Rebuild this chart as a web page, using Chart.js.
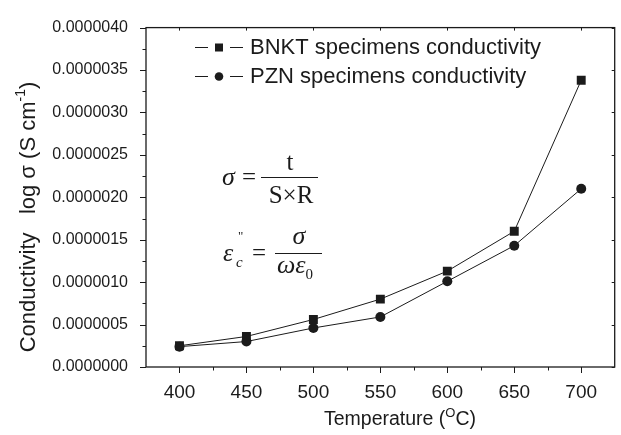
<!DOCTYPE html>
<html>
<head>
<meta charset="utf-8">
<script src="https://cdn.jsdelivr.net/npm/chart.js@4.4.0/dist/chart.umd.min.js"></script>
<style>
  html, body { margin: 0; padding: 0; background: #fff; }
  #wrap { width: 621px; height: 435px; position: relative; }
</style>
</head>
<body>
<div id="wrap"><canvas id="c" width="621" height="435"></canvas></div>
<script>
// ---- data ----
const temperatures = [400, 450, 500, 550, 600, 650, 700];
const bnktConductivity = [0.00000025, 0.00000036, 0.00000056, 0.00000080, 0.00000113, 0.00000160, 0.00000338];
const pznConductivity  = [0.00000024, 0.00000030, 0.00000046, 0.00000059, 0.00000101, 0.00000143, 0.00000210];
const xTickValues = [400, 450, 500, 550, 600, 650, 700];
const yTickValues = [0, 0.0000005, 0.000001, 0.0000015, 0.000002, 0.0000025, 0.000003, 0.0000035, 0.000004];
const seriesNames = ['BNKT specimens conductivity', 'PZN specimens conductivity'];

const INK = '#1b1b1b';

function pts(xs, ys) { return xs.map((x, i) => ({ x: x, y: ys[i] })); }

const framePlugin = {
  id: 'frame',
  afterDraw(chart) {
    const ctx = chart.ctx, a = chart.chartArea;
    const xs = chart.scales.x, ys = chart.scales.y;
    ctx.save();
    ctx.strokeStyle = INK;
    ctx.lineWidth = 1.3;
    ctx.strokeRect(a.left, a.top, a.right - a.left, a.bottom - a.top);
    ctx.lineWidth = 1;
    ctx.beginPath();
    // x ticks
    for (let i = 0; i < xTickValues.length; i++) {
      const v = xTickValues[i];
      const px = Math.round(xs.getPixelForValue(v)) + 0.5;
      ctx.moveTo(px, a.bottom); ctx.lineTo(px, a.bottom + 6);
      ctx.moveTo(px, a.top); ctx.lineTo(px, a.top + 3);
      if (i < xTickValues.length - 1) {
        const m = (v + xTickValues[i + 1]) / 2;
        const pm = Math.round(xs.getPixelForValue(m)) + 0.5;
        ctx.moveTo(pm, a.bottom); ctx.lineTo(pm, a.bottom + 3.5);
      }
    }
    // y ticks
    for (let i = 0; i < yTickValues.length; i++) {
      const v = yTickValues[i];
      const py = Math.round(ys.getPixelForValue(v)) + 0.5;
      ctx.moveTo(a.left, py); ctx.lineTo(a.left - 6, py);
      ctx.moveTo(a.right, py); ctx.lineTo(a.right - 3, py);
      if (i < yTickValues.length - 1) {
        const m = (v + yTickValues[i + 1]) / 2;
        const pm = Math.round(ys.getPixelForValue(m)) + 0.5;
        ctx.moveTo(a.left, pm); ctx.lineTo(a.left - 3.5, pm);
      }
    }
    ctx.stroke();

    // axis titles
    ctx.fillStyle = INK;
    ctx.textBaseline = 'alphabetic';
    // x title
    const f1 = '19.5px "Liberation Sans", Arial, sans-serif';
    const fs = '13px "Liberation Sans", Arial, sans-serif';
    ctx.font = f1;
    const p1 = 'Temperature (', p3 = 'C)';
    ctx.font = fs; const w2 = ctx.measureText('O').width;
    ctx.font = f1;
    const w1 = ctx.measureText(p1).width, w3 = ctx.measureText(p3).width;
    const total = w1 + w2 + w3;
    let x0 = 400 - total / 2;
    const by = 425;
    ctx.textAlign = 'left';
    ctx.fillText(p1, x0, by);
    ctx.font = fs; ctx.fillText('O', x0 + w1, by - 8);
    ctx.font = f1; ctx.fillText(p3, x0 + w1 + w2, by);

    // y title (rotated)
    ctx.save();
    ctx.translate(35, 217);
    ctx.rotate(-Math.PI / 2);
    const fy = '22px "Liberation Sans", Arial, sans-serif';
    const fys = '14px "Liberation Sans", Arial, sans-serif';
    ctx.font = fy;
    const q1 = 'Conductivity   log \u03c3 (S cm', q3 = ')';
    const qw1 = ctx.measureText(q1).width, qw3 = ctx.measureText(q3).width;
    ctx.font = fys; const qw2 = ctx.measureText('-1').width;
    const qt = qw1 + qw2 + qw3;
    let qx = -qt / 2;
    ctx.font = fy; ctx.fillText(q1, qx, 0);
    ctx.font = fys; ctx.fillText('-1', qx + qw1, -10);
    ctx.font = fy; ctx.fillText(q3, qx + qw1 + qw2, 0);
    ctx.restore();

    // legend
    const legendFont = '22px "Liberation Sans", Arial, sans-serif';
    const rows = [47, 76];
    chart.data.datasets.forEach((ds, i) => {
      const ry = rows[i] + 0.5;
      ctx.strokeStyle = INK; ctx.lineWidth = 1;
      ctx.beginPath();
      ctx.moveTo(195, ry); ctx.lineTo(208, ry);
      ctx.moveTo(230, ry); ctx.lineTo(243, ry);
      ctx.stroke();
      ctx.fillStyle = INK;
      if (ds.pointStyle === 'rect') {
        ctx.fillRect(215, ry - 4, 8, 8);
      } else {
        ctx.beginPath(); ctx.arc(219, ry, 4.3, 0, Math.PI * 2); ctx.fill();
      }
      ctx.font = legendFont;
      ctx.textBaseline = 'middle';
      ctx.textAlign = 'left';
      ctx.fillText(ds.label, 250, rows[i] + 1);
    });

    // formulas
    ctx.textBaseline = 'alphabetic';
    const serif = '"Liberation Serif", "Times New Roman", serif';
    const fi = 'italic 26px ' + serif, fr = '25px ' + serif;
    ctx.fillStyle = INK;
    // formula 1
    ctx.font = fi; ctx.textAlign = 'left'; ctx.fillText('\u03c3', 222, 185);
    ctx.font = fr; ctx.fillText('=', 242, 185);
    ctx.beginPath(); ctx.lineWidth = 1.1;
    ctx.moveTo(261, 177.5); ctx.lineTo(318, 177.5); ctx.stroke();
    ctx.textAlign = 'center';
    ctx.fillText('t', 290, 170);
    ctx.fillText('S\u00d7R', 291, 203);
    // formula 2
    ctx.textAlign = 'left';
    ctx.font = fi; ctx.fillText('\u03b5', 223, 261);
    ctx.font = 'italic 15px ' + serif; ctx.fillText('c', 236, 267);
    ctx.font = '13px ' + serif; ctx.fillText('"', 238, 240);
    ctx.font = fr; ctx.fillText('=', 252, 261);
    ctx.beginPath(); ctx.moveTo(275, 253.5); ctx.lineTo(322, 253.5); ctx.stroke();
    ctx.font = fi; ctx.textAlign = 'center'; ctx.fillText('\u03c3', 299, 244);
    ctx.textAlign = 'left';
    ctx.fillText('\u03c9\u03b5', 277, 273);
    const ww = ctx.measureText('\u03c9\u03b5').width;
    ctx.font = '15px ' + serif; ctx.fillText('0', 277 + ww, 279);
    ctx.restore();
  }
};

new Chart(document.getElementById('c'), {
  type: 'line',
  data: {
    datasets: [
      {
        label: seriesNames[0],
        data: pts(temperatures, bnktConductivity),
        borderColor: INK, backgroundColor: INK,
        borderWidth: 1, pointStyle: 'rect', pointRadius: 6.3,
        pointBorderWidth: 0, tension: 0
      },
      {
        label: seriesNames[1],
        data: pts(temperatures, pznConductivity),
        borderColor: INK, backgroundColor: INK,
        borderWidth: 1, pointStyle: 'circle', pointRadius: 5,
        pointBorderWidth: 0, tension: 0
      }
    ]
  },
  options: {
    responsive: false,
    animation: false,
    events: [],
    layout: { padding: { top: 19, right: 3, left: 0, bottom: 0 } },
    plugins: { legend: { display: false }, tooltip: { enabled: false }, title: { display: false } },
    scales: {
      x: {
        type: 'linear', min: 375, max: 725,
        afterBuildTicks(s) { s.ticks = xTickValues.map(v => ({ value: v })); },
        afterFit(s) { s.height = 68; },
        grid: { display: false, drawTicks: false },
        border: { display: false },
        ticks: {
          color: INK, padding: 14, maxRotation: 0, autoSkip: false,
          font: { family: '"Liberation Sans", Arial, sans-serif', size: 19 },
          callback: v => String(v)
        }
      },
      y: {
        type: 'linear', min: 0, max: 0.000004,
        afterBuildTicks(s) { s.ticks = yTickValues.map(v => ({ value: v })); },
        afterFit(s) { s.width = 146; },
        grid: { display: false, drawTicks: false },
        border: { display: false },
        ticks: {
          color: INK, padding: 18, autoSkip: false,
          font: { family: '"Liberation Sans", Arial, sans-serif', size: 16 },
          callback: v => Number(v).toFixed(7)
        }
      }
    }
  },
  plugins: [framePlugin]
});
</script>
</body>
</html>
